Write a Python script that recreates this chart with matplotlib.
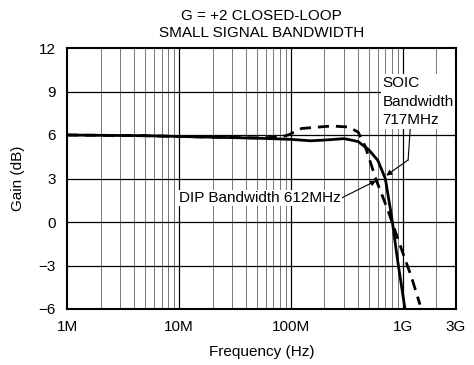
import matplotlib
matplotlib.use("Agg")
import matplotlib.pyplot as plt
import numpy as np

plt.rcParams['font.family'] = ['Liberation Sans', 'DejaVu Sans']

# SOIC (solid)
soic_freq = [1e6, 5e6, 10e6, 20e6, 50e6, 100e6, 150e6, 200e6, 300e6, 400e6, 500e6, 600e6, 700e6, 800e6, 900e6, 1.05e9]
soic_gain = [6.0, 5.95, 5.9, 5.85, 5.78, 5.7, 5.6, 5.65, 5.75, 5.55, 4.97, 4.25, 3.0, 0.3, -2.6, -6.0]
# DIP (dashed)
dip_freq = [1e6, 5e6, 10e6, 20e6, 50e6, 80e6, 95e6, 125e6, 230e6, 330e6, 400e6, 464e6, 580e6, 740e6, 910e6, 1.2e9, 1.43e9]
dip_gain = [6.0, 5.95, 5.9, 5.85, 5.8, 5.85, 6.0, 6.45, 6.62, 6.55, 6.2, 5.2, 2.9, 0.8, -1.2, -3.8, -5.7]

xticks = [1e6, 10e6, 100e6, 1e9, 3e9]
xticklabels = ['1M', '10M', '100M', '1G', '3G']
yticks = [-6, -3, 0, 3, 6, 9, 12]
yticklabels = ['\u22126', '\u22123', '0', '3', '6', '9', '12']

fs = 11

fig = plt.figure(figsize=(4.74, 3.65), dpi=100)
ax = fig.add_axes([67/474, 1-309/365, (456-67)/474, (309-48)/365])
ax.set_xscale('log')
ax.set_xlim(1e6, 3e9)
ax.set_ylim(-6, 12)

# grid
for dec in [1e6, 1e7, 1e8, 1e9]:
    for m in range(2, 10):
        f = dec * m
        if f < 3e9:
            ax.axvline(f, color='#777777', lw=0.7, zorder=1)
for f in [1e7, 1e8, 1e9]:
    ax.axvline(f, color='black', lw=0.9, zorder=1)
for y in yticks[1:-1]:
    ax.axhline(y, color='black', lw=0.9, zorder=1)

ax.plot(soic_freq, soic_gain, color='black', lw=2.0, zorder=3)
ax.plot(dip_freq, dip_gain, color='black', lw=2.0, ls=(0, (4, 2.5)), zorder=3)

ax.set_xticks(xticks)
ax.set_xticklabels(xticklabels)
ax.xaxis.set_minor_locator(matplotlib.ticker.NullLocator())
ax.set_yticks(yticks)
ax.set_yticklabels(yticklabels)
ax.tick_params(length=0, labelsize=fs, pad=8)
for s in ax.spines.values():
    s.set_linewidth(1.5)

ax.set_xlabel('Frequency (Hz)', fontsize=fs, labelpad=8)
ax.set_ylabel('Gain (dB)', fontsize=fs, labelpad=10)
ax.set_title('G = +2 CLOSED-LOOP\nSMALL SIGNAL BANDWIDTH', fontsize=fs, pad=8, linespacing=1.3)

ax.text(6.6e8, 10.1, 'SOIC\nBandwidth\n717MHz', fontsize=fs, ha='left', va='top',
        linespacing=1.45, zorder=5,
        bbox=dict(facecolor='white', edgecolor='none', pad=1))
ax.plot([1.17e9, 1.12e9], [6.48, 4.28], color='black', lw=0.8, zorder=4)
ax.annotate('', xy=(7.13e8, 3.2), xytext=(1.12e9, 4.28),
            arrowprops=dict(arrowstyle='-|>', color='black', lw=0.8, mutation_scale=8,
                            shrinkA=0, shrinkB=0), zorder=4)

ax.text(2.8e8, 1.66, 'DIP Bandwidth 612MHz', fontsize=fs, ha='right', va='center', zorder=5,
        bbox=dict(facecolor='white', edgecolor='none', pad=1))
ax.annotate('', xy=(5.8e8, 2.85), xytext=(2.85e8, 1.66),
            arrowprops=dict(arrowstyle='-|>', color='black', lw=0.8, mutation_scale=8,
                            shrinkA=0, shrinkB=0), zorder=4)

fig.savefig('out.png', dpi=100)
